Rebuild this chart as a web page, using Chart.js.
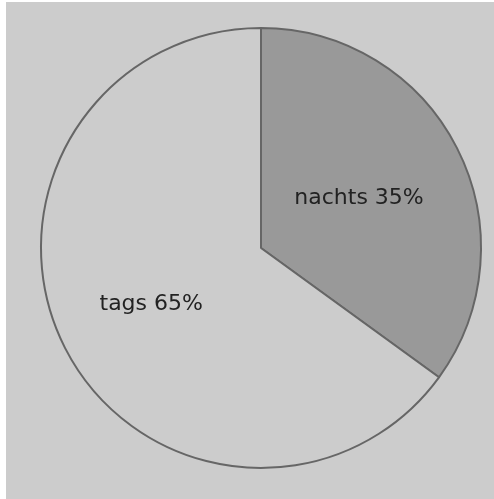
<!DOCTYPE html>
<html lang="de">
<head>
    <meta charset="UTF-8">
    <title>Tags / Nachts</title>
    <style>
        html, body {
            margin: 0;
            padding: 0;
            background: #fff;
            width: 494px;
            height: 499px;
            overflow: hidden;
        }
        #wrap {
            position: absolute;
            left: 6px;
            top: 2px;
            width: 488px;
            height: 497px;
            background: #cccccc;
        }
    </style>
    <script src="https://cdn.jsdelivr.net/npm/chart.js"></script>
</head>
<body>
    <div id="wrap">
        <canvas id="chart" width="488" height="497"></canvas>
    </div>

    <script>
        const labels = ['nachts', 'tags'];
        const values = [35, 65];
        const colors = ['#999999', '#cccccc'];
        // how far out from the centre each slice label sits (fraction of radius)
        const labelRadius = [0.5, 0.56];

        // draws "name NN%" inside each slice
        const sliceLabels = {
            id: 'sliceLabels',
            afterDatasetsDraw(chart) {
                const ctx = chart.ctx;
                const meta = chart.getDatasetMeta(0);
                ctx.save();
                ctx.font = '22px "DejaVu Sans", sans-serif';
                ctx.fillStyle = '#222222';
                ctx.textAlign = 'center';
                ctx.textBaseline = 'middle';
                meta.data.forEach((arc, i) => {
                    const p = arc.getProps(['x', 'y', 'startAngle', 'endAngle', 'outerRadius'], true);
                    const mid = (p.startAngle + p.endAngle) / 2;
                    const r = p.outerRadius * labelRadius[i];
                    const x = p.x + Math.cos(mid) * r;
                    const y = p.y + Math.sin(mid) * r;
                    ctx.fillText(labels[i] + ' ' + values[i] + '%', x, y);
                });
                ctx.restore();
            }
        };

        new Chart(document.getElementById('chart'), {
            type: 'pie',
            data: {
                labels: labels,
                datasets: [{
                    data: values,
                    backgroundColor: colors,
                    borderColor: '#666666',
                    borderWidth: 2,
                    hoverOffset: 0,
                    offset: 0
                }]
            },
            options: {
                responsive: false,
                animation: false,
                events: [],
                layout: {
                    padding: { left: 34, right: 12, top: 25, bottom: 30 }
                },
                plugins: {
                    legend: { display: false },
                    tooltip: { enabled: false }
                }
            },
            plugins: [sliceLabels]
        });
    </script>
</body>
</html>
